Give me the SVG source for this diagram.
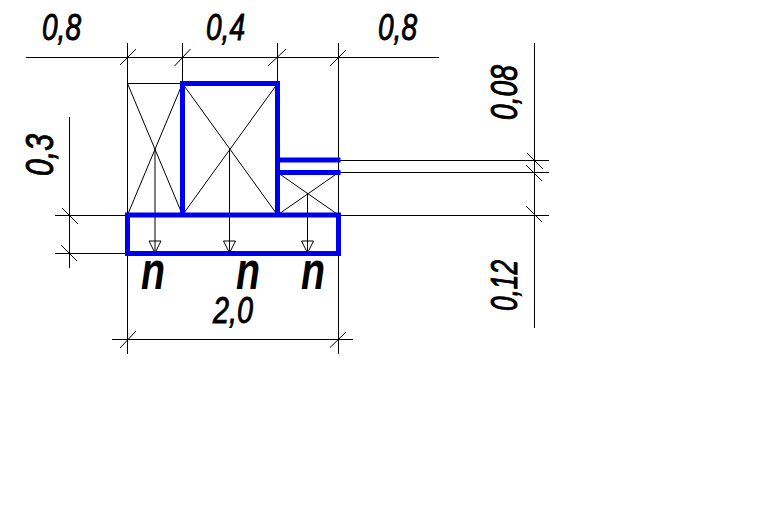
<svg xmlns="http://www.w3.org/2000/svg" width="780" height="510" viewBox="0 0 780 510">
<style>
.l{fill:none;stroke:#000;stroke-width:1}
.b{fill:none;stroke:#0000f0;stroke-width:5;stroke-linecap:square}
.t{font-family:"Liberation Sans",Arial,sans-serif;font-style:italic;font-size:36px;fill:#000;stroke:#000;stroke-width:.9}
.n{font-family:"Liberation Sans",Arial,sans-serif;font-style:italic;font-weight:bold;font-size:51px;fill:#000}
</style>
<defs><path id="a" d="M-6-12H6L0 0Z" class="l"/></defs>
<rect width="780" height="510" fill="#fff"/>
<g id="thin">
<path class="l" d="M26 57.500H439M127.500 43V354M182.500 43V215M277.500 43V215M338.500 43V354M112 339.500H353M69.500 117V268M55 215.500H127M55 253.500H127M534.500 43V328M338 160.500H549M338 172.500H549M338 215.500H549"/>
<path class="l" d="M127.500 83.500H182.500L127.500 215M127.500 83.500L182.500 215M182.500 83.500L277.500 215M277.500 83.500L182.500 215M277.500 172.500L338.500 215M338.500 172.500L277.500 215M155 149V253M229.500 149V253M307.500 193V253"/>
<use href="#a" x="155" y="253"/><use href="#a" x="229.500" y="253"/><use href="#a" x="307.500" y="253"/>
</g>
<g id="ticks">
<path class="l" d="M120 65L136 49M174.500 66L190.500 49M268 66L286 49M330 66L346 50M120 348L136 331M330 347.500L346 332M62 208L78 224M61 245L77 261M527 153L543 169M526 165L542 181M526 206L542 222"/>
</g>
<g id="walls">
<path class="b" d="M182.500 83.500H277.500V215M182.500 83.500V215M277.500 160H338M277.500 172.500H338M127.500 215H338.500V253.500H127.500Z"/>
</g>
<g id="labels">
<text class="t" x="42" y="40" textLength="39" lengthAdjust="spacingAndGlyphs">0,8</text>
<text class="t" x="206" y="40" textLength="39" lengthAdjust="spacingAndGlyphs">0,4</text>
<text class="t" x="378" y="40" textLength="39" lengthAdjust="spacingAndGlyphs">0,8</text>
<text class="t" x="213" y="323" textLength="40" lengthAdjust="spacingAndGlyphs">2,0</text>
<text class="t" transform="translate(53 176) rotate(-90) scale(1 1.1)" textLength="42" lengthAdjust="spacingAndGlyphs">0,3</text>
<text class="t" transform="translate(517 120) rotate(-90) scale(1 1.05)" textLength="55" lengthAdjust="spacingAndGlyphs">0,08</text>
<text class="t" transform="translate(517 311) rotate(-90) scale(1 1.05)" textLength="51" lengthAdjust="spacingAndGlyphs">0,12</text>
<text class="n" x="141" y="289" textLength="24" lengthAdjust="spacingAndGlyphs">n</text>
<text class="n" x="236" y="289" textLength="24" lengthAdjust="spacingAndGlyphs">n</text>
<text class="n" x="301" y="289" textLength="24" lengthAdjust="spacingAndGlyphs">n</text>
</g>
</svg>
